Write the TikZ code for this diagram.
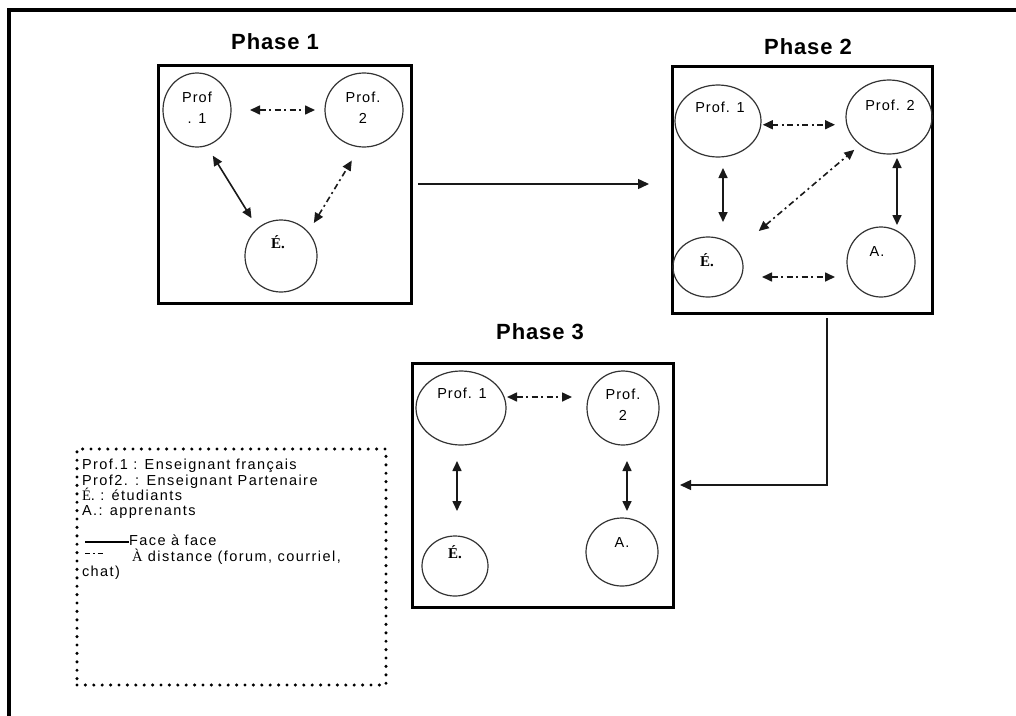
\documentclass[tikz,border=0pt]{standalone}
\usepackage{fontspec}
\setmainfont{Liberation Sans}
\newfontfamily\serifE{Liberation Serif}
\newfontfamily\lblfont[LetterSpace=7]{Liberation Sans}
\newfontfamily\lgfont[LetterSpace=10]{Liberation Sans}
\newfontfamily\ttlfont[LetterSpace=4]{Liberation Sans}
\usetikzlibrary{arrows.meta,shapes.geometric,calc}
\begin{document}
\begin{tikzpicture}[x=1pt,y=-1pt,
  every node/.style={inner sep=0pt,outer sep=0pt},
  ell/.style 2 args={ellipse,draw=black!80,line width=1.2pt,minimum width=#1,minimum height=#2},
  phbox/.style 2 args={rectangle,draw=black,line width=3pt,minimum width=#1,minimum height=#2},
  ttl/.style={font=\ttlfont\bfseries\fontsize{22}{24}\selectfont},
  lbl/.style={font=\lblfont\fontsize{14.5}{21}\selectfont,align=center},
  serlbl/.style={font=\serifE\bfseries\fontsize{15}{16}\selectfont},
  lg/.style={font=\lgfont\fontsize{14.5}{15}\selectfont,anchor=west,text height=10pt,text depth=3pt},
  ah/.tip={Triangle[length=10pt,width=9pt]},
  sa/.style={ah-ah,line width=1.6pt,draw=black!90},
  dda/.style={sa,dash pattern=on 6pt off 3.5pt on 2pt off 3.5pt},
  conn/.style={-{Triangle[length=11pt,width=10pt]},line width=1.4pt,draw=black!90},
  legendbox/.style={draw=black,line width=3.4pt,dash pattern=on 0pt off 8.4pt,line cap=round,minimum width=309pt,minimum height=236pt},
]
\useasboundingbox (0,0) rectangle (1016,715);
\fill[white] (0,0) rectangle (1016,715);

% outer frame
\draw[line width=3.5pt] (9,725) -- (9,10) -- (1030,10);

% phase boxes
\node[phbox={253pt}{238pt}] (b1) at (284.5,184) {};
\node[phbox={260pt}{247pt}] (b2) at (802,189.5) {};
\node[phbox={261pt}{244pt}] (b3) at (542.5,485) {};
\node[ttl] (t1) at (275,42) {Phase 1};
\node[ttl] (t2) at (808,47) {Phase 2};
\node[ttl] (t3) at (540,332) {Phase 3};

% Phase 1
\node[ell={68pt}{74pt}] (p1a) at (197,110) {};
\node[ell={78pt}{74pt}] (p1b) at (364,110) {};
\node[ell={72pt}{72pt}] (p1e) at (281,256) {};
\node[lbl] (l1a) at (197,108) {Prof\\. 1};
\node[lbl] (l1b) at (363,108) {Prof.\\2};
\node[serlbl] (l1e) at (278,242) {É.};
\draw[dda,shorten <=19pt,shorten >=10pt] (p1a) -- (p1b);
\draw[sa,shorten <=12pt,shorten >=12pt] (p1a.-75) -- (p1e.130);
\draw[dda,shorten <=11pt,shorten >=16pt] (p1e.41) -- (p1b.-96);

% Phase 2
\node[ell={86pt}{72pt}] (q1) at (718,121) {};
\node[ell={86pt}{74pt}] (q2) at (889,117) {};
\node[ell={70pt}{60pt}] (qe) at (708,267) {};
\node[ell={68pt}{70pt}] (qa) at (881,262) {};
\node[lbl] (l2a) at (720,107) {Prof. 1};
\node[lbl] (l2b) at (890,105) {Prof. 2};
\node[serlbl] (l2e) at (707,260) {É.};
\node[lbl] (l2f) at (877,252) {A.};
\draw[dda,shorten <=2pt,shorten >=11pt] (q1.-5) -- (q1.-5 -| q2.west);
\draw[sa,shorten <=11pt,shorten >=15pt] ([xshift=5pt]q1.south) -- ([xshift=5pt]q1.south |- qe.north);
\draw[sa,shorten <=4pt,shorten >=2pt] ([xshift=8pt]q2.south) -- ([xshift=8pt]q2.south |- qa.north);
\draw[dda,shorten <=29pt,shorten >=8pt] (qe.31) -- (q2.224);
\draw[dda,shorten <=19pt,shorten >=12pt] ([yshift=-10pt]qe.east) -- ([yshift=-10pt]qe.east -| qa.west);

% Phase 3
\node[ell={90pt}{74pt}] (r1) at (461,408) {};
\node[ell={72pt}{74pt}] (r2) at (623,408) {};
\node[ell={66pt}{60pt}] (re) at (455,566) {};
\node[ell={72pt}{68pt}] (ra) at (622,552) {};
\node[lbl] (l3a) at (462,393) {Prof. 1};
\node[lbl] (l3b) at (623,405) {Prof.\\2};
\node[serlbl] (l3e) at (455,552) {É.};
\node[lbl] (l3f) at (622,543) {A.};
\draw[dda,shorten <=1pt,shorten >=15pt] ([yshift=11pt]r1.east) -- ([yshift=11pt]r1.east -| r2.west);
\draw[sa,shorten <=16pt,shorten >=25pt] ([xshift=-4pt]r1.south) -- ([xshift=-4pt]r1.south |- re.north);
\draw[sa,shorten <=16pt,shorten >=7pt] ([xshift=4pt]r2.south) -- ([xshift=4pt]r2.south |- ra.north);

% phase connectors
\draw[conn,shorten <=7pt,shorten >=23pt] (b1.east) -- (b1.east -| b2.west);
\draw[conn,shorten <=5pt,shorten >=7pt] ([xshift=25pt]b2.south) |- (b3.east);

% legend
\node[legendbox] (legend) at (231.5,567) {};
\node[lg] (lg1) at (82,466) {Prof.1 : Enseignant français};
\node[lg] (lg2) at (82,481.5) {Prof2. : Enseignant Partenaire};
\node[lg] (lg3) at (82,497) {{\serifE É}. : étudiants};
\node[lg] (lg4) at (82,512) {A.: apprenants};
\node[lg] (lg5) at (129,542) {Face à face};
\node[lg] (lg6) at (132,557.5) {{\serifE À} distance (forum, courriel,};
\node[lg] (lg7) at (82,573) {chat)};
\draw[line width=1.2pt] ([xshift=-44pt]lg5.west) -- (lg5.west);
\draw[line width=1.2pt,dash pattern=on 5pt off 3pt on 1.5pt off 3pt] ([xshift=-47pt,yshift=4pt]lg6.west) -- ([xshift=-29pt,yshift=4pt]lg6.west);
\end{tikzpicture}
\end{document}
